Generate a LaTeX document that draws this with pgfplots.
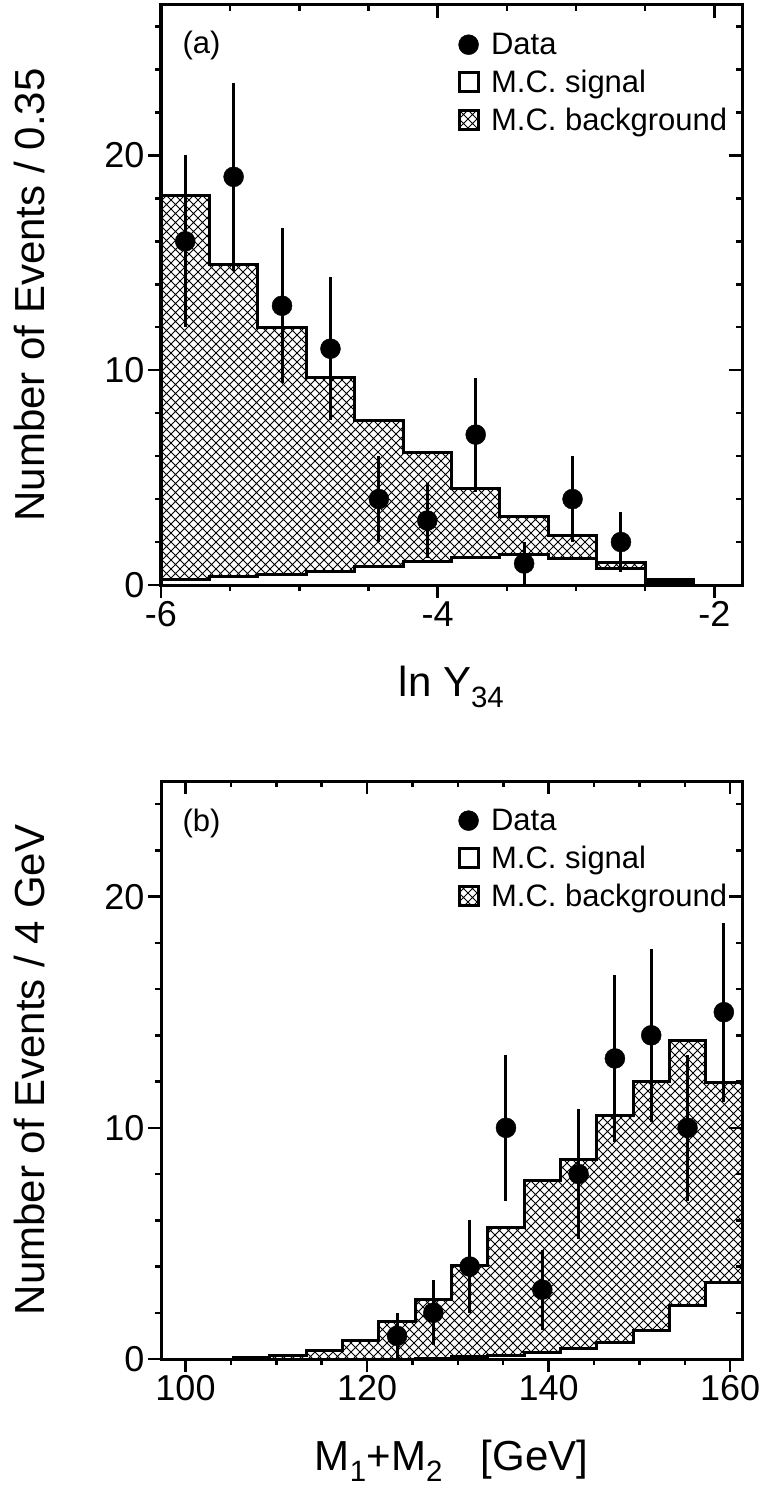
\documentclass[border=0pt]{standalone}
\usepackage{fontspec}
\setmainfont{Liberation Sans}
\usepackage{pgfplots}
\pgfplotsset{compat=1.18}
\usetikzlibrary{patterns}

\pgfdeclarepatternformonly{diagcross}{\pgfqpoint{-1pt}{-1pt}}{\pgfqpoint{10pt}{10pt}}{\pgfqpoint{9pt}{9pt}}{%
  \pgfsetlinewidth{1pt}%
  \pgfpathmoveto{\pgfqpoint{0pt}{0pt}}\pgfpathlineto{\pgfqpoint{9pt}{9pt}}%
  \pgfpathmoveto{\pgfqpoint{0pt}{9pt}}\pgfpathlineto{\pgfqpoint{9pt}{0pt}}%
  \pgfusepath{stroke}}

\pgfplotsset{
  base/.style={scale only axis, width=581pt, axis on top,
    axis line style={line width=3pt},
    tick style={line width=2.5pt, black},
    major tick length=13pt, minor tick length=6pt,
    tick label style={font=\fontsize{36}{40}\selectfont},
    label style={font=\fontsize{42}{48}\selectfont}},
  main/.style={base, tick align=outside, xtick pos=left, ytick pos=left,
    ylabel style={at={(axis description cs:-0.2255,0.5)}, anchor=center},
    xlabel style={at={(axis description cs:0.5,0)}, anchor=base, yshift=-111pt},
    legend style={at={(axis description cs:0.511,0.955)}, anchor=north west,
      draw=none, fill=none, font=\fontsize{31}{36}\selectfont,
      row sep=10pt, inner sep=0pt,
      /tikz/every odd column/.append style={column sep=9pt}},
    legend cell align=left},
  over/.style={base, tick align=inside, xtick pos=right, ytick pos=right,
    xticklabels={}, yticklabels={}},
  hist/.style={forget plot, const plot, line width=3pt, black},
  datapts/.style={forget plot, only marks, mark=*, mark size=10pt, black,
    error bars/.cd, y dir=both, y explicit, error mark=none,
    error bar style={line width=3pt}},
  legdata/.style={legend image code/.code={\path[draw=none,fill=none] (0pt,-10.5pt) rectangle (21pt,10.5pt);
      \draw[##1] plot coordinates {(10.5pt,0pt)};}},
  legbox/.style={legend image code/.code={\draw[##1] (1.5pt,-9.5pt) rectangle (20.5pt,9.5pt);}},
}

\begin{document}
\begin{tikzpicture}
\useasboundingbox (0pt,0pt) rectangle (760pt,-1487pt);

% ---------------- panel (a) ----------------
\begin{axis}[main, at={(161pt,-585pt)}, anchor=south west, height=580pt,
  xmin=-6, xmax=-1.8, ymin=0, ymax=27,
  xtick={-6,-4,-2}, xticklabels={-6,-4,-2},
  minor xtick={-5.5,-5,-4.5,-3.5,-3,-2.5},
  ytick={0,10,20}, yticklabels={0,10,20},
  minor ytick={2,4,6,8,12,14,16,18,22,24,26},
  xlabel={ln Y\textsubscript{34}}, ylabel={Number of Events / 0.35}]
\addlegendimage{legdata, only marks, mark=*, mark size=10pt, black}
\addlegendentry{Data}
\addlegendimage{legbox, draw=black, fill=white, line width=3pt}
\addlegendentry{M.C. signal}
\addlegendimage{legbox, draw=black, pattern=diagcross, line width=3pt}
\addlegendentry{M.C. background}
% total (signal + background)
\addplot[forget plot, const plot, draw=none, pattern=diagcross] coordinates {
 (-6,18.15) (-5.65,14.93) (-5.3,11.97) (-4.95,9.64) (-4.6,7.67) (-4.25,6.18)
 (-3.9,4.50) (-3.55,3.18) (-3.2,2.32) (-2.85,1.07) (-2.5,0.24) (-2.15,0.24)} \closedcycle;
% signal
\addplot[hist, fill=white] coordinates {
 (-6,0.27) (-5.65,0.38) (-5.3,0.48) (-4.95,0.65) (-4.6,0.84) (-4.25,1.09)
 (-3.9,1.30) (-3.55,1.42) (-3.2,1.22) (-2.85,0.75) (-2.5,0.12) (-2.15,0.12)} \closedcycle;
% total outline
\addplot[hist] coordinates {
 (-6,18.15) (-5.65,14.93) (-5.3,11.97) (-4.95,9.64) (-4.6,7.67) (-4.25,6.18)
 (-3.9,4.50) (-3.55,3.18) (-3.2,2.32) (-2.85,1.07) (-2.5,0.24) (-2.15,0.24) (-2.15,0)};
% data
\addplot[datapts] coordinates {
 (-5.825,16) +- (0,4)
 (-5.475,19) +- (0,4.36)
 (-5.125,13) +- (0,3.61)
 (-4.775,11) +- (0,3.32)
 (-4.425,4)  +- (0,2)
 (-4.075,3)  +- (0,1.73)
 (-3.725,7)  +- (0,2.65)
 (-3.375,1)  +- (0,1)
 (-3.025,4)  +- (0,2)
 (-2.675,2)  +- (0,1.41)};
\node[anchor=west, font=\fontsize{31}{36}\selectfont] at (axis description cs:0.031,0.931) {(a)};
\end{axis}
\begin{axis}[over, at={(161pt,-585pt)}, anchor=south west, height=580pt,
  xmin=-6, xmax=-1.8, ymin=0, ymax=27,
  xtick={-6,-4,-2}, minor xtick={-5.5,-5,-4.5,-3.5,-3,-2.5},
  ytick={0,10,20}, minor ytick={2,4,6,8,12,14,16,18,22,24,26}]
\end{axis}

% ---------------- panel (b) ----------------
\begin{axis}[main, at={(161pt,-1359pt)}, anchor=south west, height=578pt,
  xmin=97.3, xmax=161.3, ymin=0, ymax=25,
  xtick={100,120,140,160}, xticklabels={100,120,140,160},
  minor xtick={105,110,115,125,130,135,145,150,155},
  ytick={0,10,20}, yticklabels={0,10,20},
  minor ytick={2,4,6,8,12,14,16,18,22,24},
  xlabel={M\textsubscript{1}+M\textsubscript{2}\hspace{0.9em}[GeV]},
  ylabel={Number of Events / 4 GeV}]
\addlegendimage{legdata, only marks, mark=*, mark size=10pt, black}
\addlegendentry{Data}
\addlegendimage{legbox, draw=black, fill=white, line width=3pt}
\addlegendentry{M.C. signal}
\addlegendimage{legbox, draw=black, pattern=diagcross, line width=3pt}
\addlegendentry{M.C. background}
% total
\addplot[forget plot, const plot, draw=none, pattern=diagcross] coordinates {
 (97.3,0) (101.3,0) (105.3,0.06) (109.3,0.15) (113.3,0.36) (117.3,0.80)
 (121.3,1.61) (125.3,2.59) (129.3,4.04) (133.3,5.71) (137.3,7.71) (141.3,8.64)
 (145.3,10.55) (149.3,12.02) (153.3,13.77) (157.3,11.98) (161.3,11.98)} \closedcycle;
% signal
\addplot[hist, fill=white] coordinates {
 (97.3,0) (101.3,0) (105.3,0) (109.3,0) (113.3,0) (117.3,0)
 (121.3,0) (125.3,0.03) (129.3,0.10) (133.3,0.17) (137.3,0.28) (141.3,0.46)
 (145.3,0.72) (149.3,1.23) (153.3,2.32) (157.3,3.33) (161.3,3.33)} \closedcycle;
% total outline
\addplot[hist] coordinates {
 (97.3,0) (101.3,0) (105.3,0.06) (109.3,0.15) (113.3,0.36) (117.3,0.80)
 (121.3,1.61) (125.3,2.59) (129.3,4.04) (133.3,5.71) (137.3,7.71) (141.3,8.64)
 (145.3,10.55) (149.3,12.02) (153.3,13.77) (157.3,11.98) (161.3,11.98)};
% data
\addplot[datapts] coordinates {
 (123.3,1)  +- (0,1)
 (127.3,2)  +- (0,1.41)
 (131.3,4)  +- (0,2)
 (135.3,10) +- (0,3.16)
 (139.3,3)  +- (0,1.73)
 (143.3,8)  +- (0,2.83)
 (147.3,13) +- (0,3.61)
 (151.3,14) +- (0,3.74)
 (155.3,10) +- (0,3.16)
 (159.3,15) +- (0,3.87)};
\node[anchor=west, font=\fontsize{31}{36}\selectfont] at (axis description cs:0.031,0.927) {(b)};
\end{axis}
\begin{axis}[over, at={(161pt,-1359pt)}, anchor=south west, height=578pt,
  xmin=97.3, xmax=161.3, ymin=0, ymax=25,
  xtick={100,120,140,160}, minor xtick={105,110,115,125,130,135,145,150,155},
  ytick={0,10,20}, minor ytick={2,4,6,8,12,14,16,18,22,24}]
\end{axis}
\end{tikzpicture}
\end{document}
